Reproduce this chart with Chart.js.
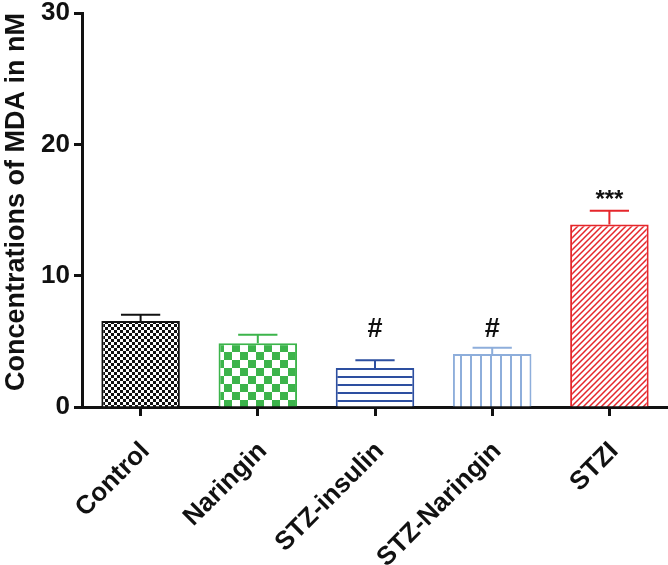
<!DOCTYPE html>
<html>
<head>
<meta charset="utf-8">
<script src="https://cdn.jsdelivr.net/npm/chart.js@4/dist/chart.umd.min.js"></script>
<style>
  html, body { margin: 0; padding: 0; background: #fff; }
  #wrap { width: 668px; height: 565px; position: relative; }
</style>
</head>
<body>
<div id="wrap"><canvas id="mdaChart"></canvas></div>
<script>
const groups = ["Control", "Naringin", "STZ-insulin", "STZ-Naringin", "STZI"];
const mdaMean = [6.55, 4.85, 2.97, 4.04, 13.9];
const mdaErr = [0.48, 0.65, 0.59, 0.48, 1.05];
const marks = ["", "", "#", "#", "***"];
const yTicks = [0, 10, 20, 30];

const colors = ["#111111", "#3cb44b", "#2d4fa0", "#8eaedb", "#e5262b"];
const FONT = "'Liberation Sans', Arial, sans-serif";

function makePattern(kind, color) {
    const c = document.createElement("canvas");
    const g = c.getContext("2d");
    if (kind === "smallCheck") {
        c.width = 6; c.height = 6;
        g.fillStyle = "#fff"; g.fillRect(0, 0, 6, 6);
        g.fillStyle = color;
        g.fillRect(0, 0, 3, 3); g.fillRect(3, 3, 3, 3);
    } else if (kind === "bigCheck") {
        c.width = 16; c.height = 16;
        g.fillStyle = "#fff"; g.fillRect(0, 0, 16, 16);
        g.fillStyle = color;
        g.fillRect(0, 0, 8, 8); g.fillRect(8, 8, 8, 8);
    } else if (kind === "hLines") {
        c.width = 8; c.height = 8;
        g.fillStyle = "#fff"; g.fillRect(0, 0, 8, 8);
        g.fillStyle = color;
        g.fillRect(0, 0, 8, 2);
    } else if (kind === "vLines") {
        c.width = 10; c.height = 10;
        g.fillStyle = "#fff"; g.fillRect(0, 0, 10, 10);
        g.fillStyle = color;
        g.fillRect(0, 0, 2, 10);
    } else {
        c.width = 6; c.height = 6;
        g.fillStyle = "#fff"; g.fillRect(0, 0, 6, 6);
        g.strokeStyle = color;
        g.lineWidth = 1.5;
        g.beginPath();
        g.moveTo(-1, 7); g.lineTo(7, -1);
        g.moveTo(-1, 1); g.lineTo(1, -1);
        g.moveTo(5, 7); g.lineTo(7, 5);
        g.stroke();
    }
    return g.createPattern(c, "repeat");
}

const kinds = ["smallCheck", "bigCheck", "hLines", "vLines", "diag"];

const errorBars = {
    id: "errorBars",
    afterDatasetsDraw(chart) {
        const ctx = chart.ctx;
        const meta = chart.getDatasetMeta(0);
        const y = chart.scales.y;
        ctx.save();
        meta.data.forEach((bar, i) => {
            const top = y.getPixelForValue(mdaMean[i] + mdaErr[i]);
            const half = bar.width / 4;
            ctx.strokeStyle = colors[i];
            ctx.lineWidth = 2;
            ctx.beginPath();
            ctx.moveTo(bar.x, bar.y);
            ctx.lineTo(bar.x, top);
            ctx.moveTo(bar.x - half, top);
            ctx.lineTo(bar.x + half, top);
            ctx.stroke();
        });
        // significance marks
        const hashLevel = Math.max(...mdaMean.map((m, i) => marks[i] === "#" ? m + mdaErr[i] : 0));
        ctx.fillStyle = "#111";
        ctx.textAlign = "center";
        ctx.textBaseline = "middle";
        meta.data.forEach((bar, i) => {
            if (!marks[i]) return;
            if (marks[i] === "#") {
                ctx.font = "bold 27px " + FONT;
                ctx.fillText(marks[i], bar.x, y.getPixelForValue(hashLevel) - 18);
            } else {
                ctx.font = "bold 24px " + FONT;
                ctx.fillText(marks[i], bar.x, y.getPixelForValue(mdaMean[i] + mdaErr[i]) - 10);
            }
        });
        ctx.restore();
    }
};

new Chart(document.getElementById("mdaChart"), {
    type: "bar",
    data: {
        labels: groups,
        datasets: [{
            data: mdaMean,
            backgroundColor: kinds.map((k, i) => makePattern(k, colors[i])),
            borderColor: colors,
            borderWidth: 2,
            borderSkipped: "bottom",
            barPercentage: 0.67,
            categoryPercentage: 1
        }]
    },
    options: {
        responsive: true,
        maintainAspectRatio: false,
        animation: false,
        layout: { padding: 0 },
        plugins: {
            legend: { display: false },
            tooltip: { enabled: false }
        },
        scales: {
            x: {
                offset: true,
                grid: {
                    offset: false,
                    drawOnChartArea: false,
                    drawTicks: true,
                    tickLength: 9,
                    tickWidth: 3,
                    tickColor: "#111"
                },
                border: { color: "#111", width: 3 },
                ticks: {
                    color: "#111",
                    font: { family: FONT, size: 26, weight: "bold" },
                    minRotation: 45,
                    maxRotation: 45,
                    padding: 20,
                    labelOffset: 5
                },
                afterFit(scale) { scale.height = 158; }
            },
            y: {
                min: 0,
                max: 30,
                afterBuildTicks(scale) {
                    scale.ticks = yTicks.map(v => ({ value: v }));
                },
                grid: {
                    drawOnChartArea: false,
                    tickLength: 8,
                    tickWidth: 3,
                    tickColor: "#111"
                },
                border: { color: "#111", width: 3 },
                ticks: {
                    color: "#111",
                    font: { family: FONT, size: 26, weight: "bold" },
                    padding: 4
                },
                title: {
                    display: true,
                    text: "Concentrations of MDA in nM",
                    align: "end",
                    color: "#111",
                    font: { family: FONT, size: 27, weight: "bold" },
                    padding: { top: 0, bottom: 0 }
                },
                afterFit(scale) {
                    scale.width = 82;
                    scale.paddingTop = 13;
                }
            }
        }
    },
    plugins: [errorBars]
});
</script>
</body>
</html>
